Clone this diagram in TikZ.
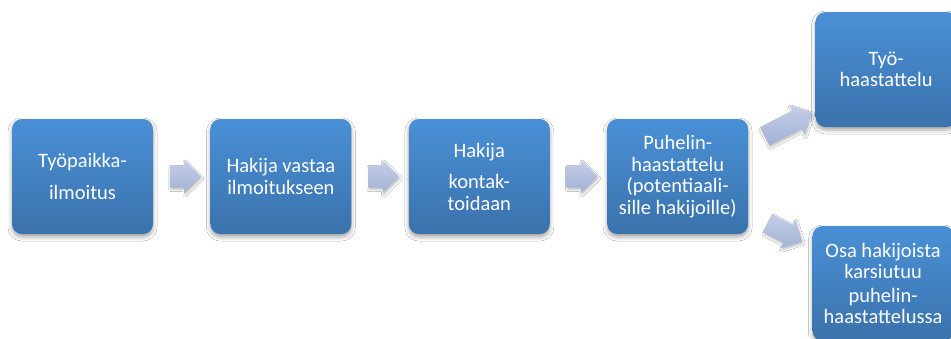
\documentclass[tikz,border=0pt]{standalone}
\usepackage{fontspec}
\setmainfont{Carlito}
\usetikzlibrary{positioning, shapes.arrows, shadows.blur}

\definecolor{boxtop}{HTML}{4A90D6}
\definecolor{boxbot}{HTML}{3A72AC}
\definecolor{arrtop}{HTML}{C4CFE8}
\definecolor{arrbot}{HTML}{A2B2D4}

\begin{document}
\begin{tikzpicture}[
  x=1pt, y=-1pt,
  font=\fontsize{20.5}{21.5}\selectfont,
  node distance=57pt,
  stage/.style ={rounded corners=10pt, top color=boxtop, bottom color=boxbot, text=white,
                 minimum width=141pt, minimum height=115pt, align=center, inner sep=0pt,
                 blur shadow={shadow xshift=0pt, shadow yshift=-3pt, shadow blur radius=4pt, shadow opacity=35}},
  flow/.style  ={single arrow, single arrow head extend=5.5pt, top color=arrtop, bottom color=arrbot,
                 minimum width=33pt, minimum height=31pt, inner xsep=0pt, inner ysep=11pt,
                 blur shadow={shadow xshift=1pt, shadow yshift=-2pt, shadow blur radius=2pt, shadow opacity=25}},
]
\useasboundingbox[fill=white] (0,0) rectangle (951,338);
\node[stage] (ad) at (82.5,176.5) {Työpaikka-\\[10pt]ilmoitus};
\node[stage, right=of ad]    (reply)   {Hakija vastaa\\ilmoitukseen};
\node[stage, right=of reply] (contact) {Hakija\\[10pt]kontak-\\toidaan};
\node[stage, right=of contact] (phone) {Puhelin-\\haastattelu\\(potentiaali-\\sille hakijoille)};
\node[stage, right=67pt of phone, yshift=107pt]  (job)  {Työ-\\haastattelu};
\node[stage, right=64pt of phone, yshift=-107pt] (drop) {Osa hakijoista\\karsiutuu\\[2pt]puhelin-\\haastattelussa};
% block arrows between the stages
\foreach \a/\b in {ad/reply, reply/contact, contact/phone}
  \path (\a) -- (\b) node[midway, flow, xshift=-2pt] {};
\path (phone) -- (job)  node[midway, sloped, flow, yshift=-4pt, inner ysep=10pt, minimum height=53pt, single arrow head extend=6.5pt] {};
\path (phone) -- (drop) node[midway, sloped, flow, inner ysep=10pt, minimum width=32pt, minimum height=39pt, single arrow head extend=6pt] {};
\end{tikzpicture}
\end{document}
